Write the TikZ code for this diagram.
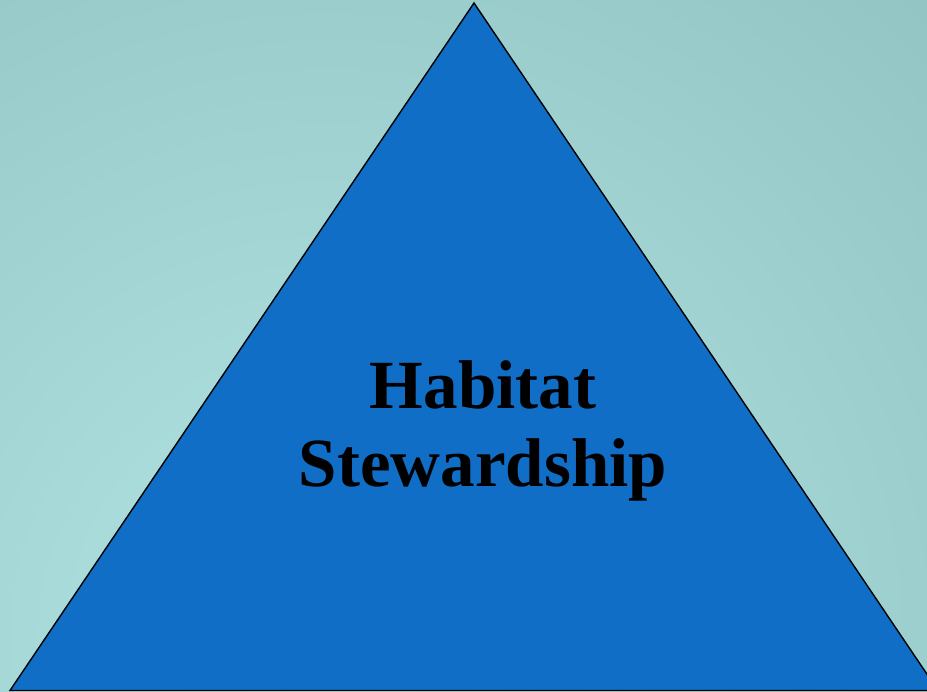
\documentclass[tikz,border=0pt]{standalone}
\usepackage{fontspec}
\setmainfont{Liberation Serif}
\usepackage{xcolor}
\definecolor{seablue}{RGB}{16,110,198}
\definecolor{shallow}{RGB}{178,228,228}
\definecolor{deepwater}{RGB}{128,176,176}

\begin{document}
\begin{tikzpicture}[x=1pt,y=-1pt,
  label text/.style={font=\fontsize{69}{78}\selectfont\bfseries,align=center,text=black,inner sep=0pt},
  pyramid/.style={fill=seablue,draw=black,line width=1.4pt,line join=miter}]
\useasboundingbox (0,0) rectangle (927,692);
\clip (0,0) rectangle (927,692);
\shade[inner color=shallow,outer color=deepwater] (330,640) circle (1450);
\coordinate (apex) at (474,3);
\coordinate (left) at (10,690.5);
\coordinate (right) at (938,690.5);
\draw[pyramid] (apex) -- (left) -- (right) -- cycle;
\node[label text] (title) at (483,431) {Habitat\\Stewardship};
\end{tikzpicture}
\end{document}
